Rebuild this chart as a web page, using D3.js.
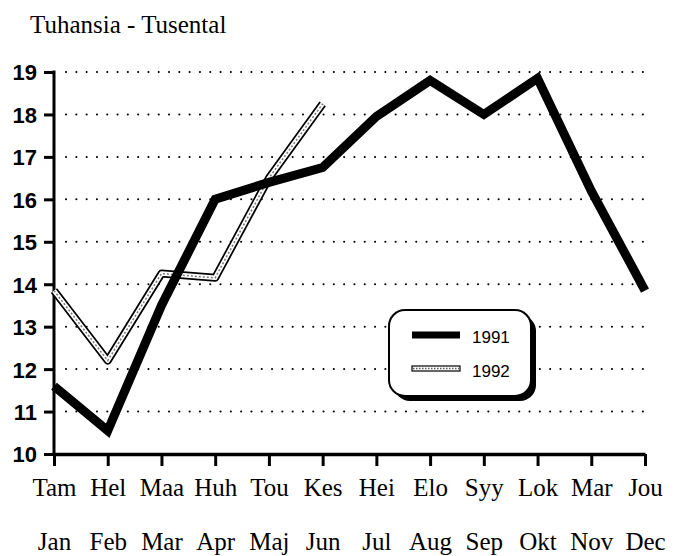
<!DOCTYPE html>
<html>
<head>
<meta charset="utf-8">
<script src="https://cdn.jsdelivr.net/npm/d3@7"></script>
<style>
  body { margin: 0; background: #fff; }
  svg { display: block; }
</style>
</head>
<body>
<svg id="chart" width="679" height="556"></svg>
<script>
var monthsFi = ["Tam", "Hel", "Maa", "Huh", "Tou", "Kes", "Hei", "Elo", "Syy", "Lok", "Mar", "Jou"];
var monthsSe = ["Jan", "Feb", "Mar", "Apr", "Maj", "Jun", "Jul", "Aug", "Sep", "Okt", "Nov", "Dec"];
var values1991 = [11.6, 10.55, 13.5, 16.0, 16.4, 16.75, 17.95, 18.8, 18.0, 18.85, 16.2, 13.85];
var values1992 = [13.85, 12.2, 14.25, 14.15, 16.5, 18.25];
var yTicks = [10, 11, 12, 13, 14, 15, 16, 17, 18, 19];

var margin = {top: 72, right: 34, bottom: 102, left: 54},
    width = 679 - margin.left - margin.right,
    height = 556 - margin.top - margin.bottom;

var svg = d3.select("#chart")
  .append("g")
  .attr("transform", "translate(" + margin.left + "," + margin.top + ")");

var xScale = d3.scalePoint()
  .domain(d3.range(12))
  .range([0, width]);

var yScale = d3.scaleLinear()
  .domain([10, 19])
  .range([height, 0]);

// title
d3.select("#chart").append("text")
  .attr("x", 30)
  .attr("y", 33)
  .attr("font-family", "Liberation Serif")
  .attr("font-size", "25px")
  .text("Tuhansia - Tusental");

// dotted grid
svg.selectAll(".grid")
  .data(yTicks.slice(1))
  .enter()
  .append("line")
  .attr("x1", 12)
  .attr("x2", width)
  .attr("y1", function(d) { return yScale(d); })
  .attr("y2", function(d) { return yScale(d); })
  .attr("stroke", "#000")
  .attr("stroke-width", 2)
  .attr("stroke-linecap", "round")
  .attr("stroke-dasharray", "0.1 10.2");

// y axis
var yAxis = d3.axisLeft(yScale)
  .tickValues(yTicks)
  .tickSize(10)
  .tickPadding(7)
  .tickFormat(d3.format("d"));

var gy = svg.append("g").call(yAxis);
gy.select(".domain").remove();
gy.selectAll("line").attr("stroke-width", 3);
gy.selectAll("text")
  .attr("font-family", "Liberation Sans")
  .attr("font-weight", "bold")
  .attr("font-size", "22px")
  .attr("dy", "0.36em")
  .attr("fill", "#000");
svg.append("line")
  .attr("x1", 0).attr("x2", 0)
  .attr("y1", yScale(19) - 1.5).attr("y2", height + 1.5)
  .attr("stroke", "#000")
  .attr("stroke-width", 3);

// x axis
var xAxis = d3.axisBottom(xScale)
  .tickSize(12)
  .tickSizeOuter(0)
  .tickPadding(12)
  .tickFormat(function(d) { return monthsFi[d]; });

var gx = svg.append("g")
  .attr("transform", "translate(0," + height + ")")
  .call(xAxis);
gx.select(".domain").attr("stroke-width", 3.5);
gx.selectAll("line").attr("stroke-width", 3);
gx.selectAll("text")
  .attr("font-family", "Liberation Serif")
  .attr("font-size", "25px")
  .attr("fill", "#000");

gx.selectAll(".tick")
  .append("text")
  .attr("y", 96)
  .attr("text-anchor", "middle")
  .attr("font-family", "Liberation Serif")
  .attr("font-size", "25px")
  .attr("fill", "#000")
  .text(function(d) { return monthsSe[d]; });

var line = d3.line()
  .x(function(d, i) { return xScale(i); })
  .y(function(d) { return yScale(d); });

// 1992 line: outlined with dotted core
svg.append("path")
  .datum(values1992)
  .attr("d", line)
  .attr("fill", "none")
  .attr("stroke", "#000")
  .attr("stroke-width", 8)
  .attr("stroke-linejoin", "round");
svg.append("path")
  .datum(values1992)
  .attr("d", line)
  .attr("fill", "none")
  .attr("stroke", "#fff")
  .attr("stroke-width", 4.5)
  .attr("stroke-linejoin", "round");
svg.append("path")
  .datum(values1992)
  .attr("d", line)
  .attr("fill", "none")
  .attr("stroke", "#777")
  .attr("stroke-width", 1.5)
  .attr("stroke-dasharray", "2 2");

// 1991 line
svg.append("path")
  .datum(values1991)
  .attr("d", line)
  .attr("fill", "none")
  .attr("stroke", "#000")
  .attr("stroke-width", 9)
  .attr("stroke-linejoin", "miter");

// legend
var legend = d3.select("#chart").append("g")
  .attr("transform", "translate(389,310)");
legend.append("rect")
  .attr("x", 5).attr("y", 5)
  .attr("width", 142).attr("height", 86)
  .attr("rx", 16)
  .attr("fill", "#000");
legend.append("rect")
  .attr("width", 142).attr("height", 86)
  .attr("rx", 16)
  .attr("fill", "#fff")
  .attr("stroke", "#000")
  .attr("stroke-width", 2);
legend.append("line")
  .attr("x1", 23).attr("x2", 71)
  .attr("y1", 25).attr("y2", 25)
  .attr("stroke", "#000")
  .attr("stroke-width", 7);
legend.append("rect")
  .attr("x", 23).attr("y", 56)
  .attr("width", 48).attr("height", 5)
  .attr("fill", "#fff")
  .attr("stroke", "#000")
  .attr("stroke-width", 1.2);
legend.append("line")
  .attr("x1", 24).attr("x2", 70)
  .attr("y1", 58.5).attr("y2", 58.5)
  .attr("stroke", "#555")
  .attr("stroke-width", 1.5)
  .attr("stroke-dasharray", "1.5 1.5");
legend.selectAll(".ltext")
  .data(["1991", "1992"])
  .enter()
  .append("text")
  .attr("x", 83)
  .attr("y", function(d, i) { return 33 + i * 34; })
  .attr("font-family", "Liberation Sans")
  .attr("font-size", "17px")
  .text(function(d) { return d; });
</script>
</body>
</html>
